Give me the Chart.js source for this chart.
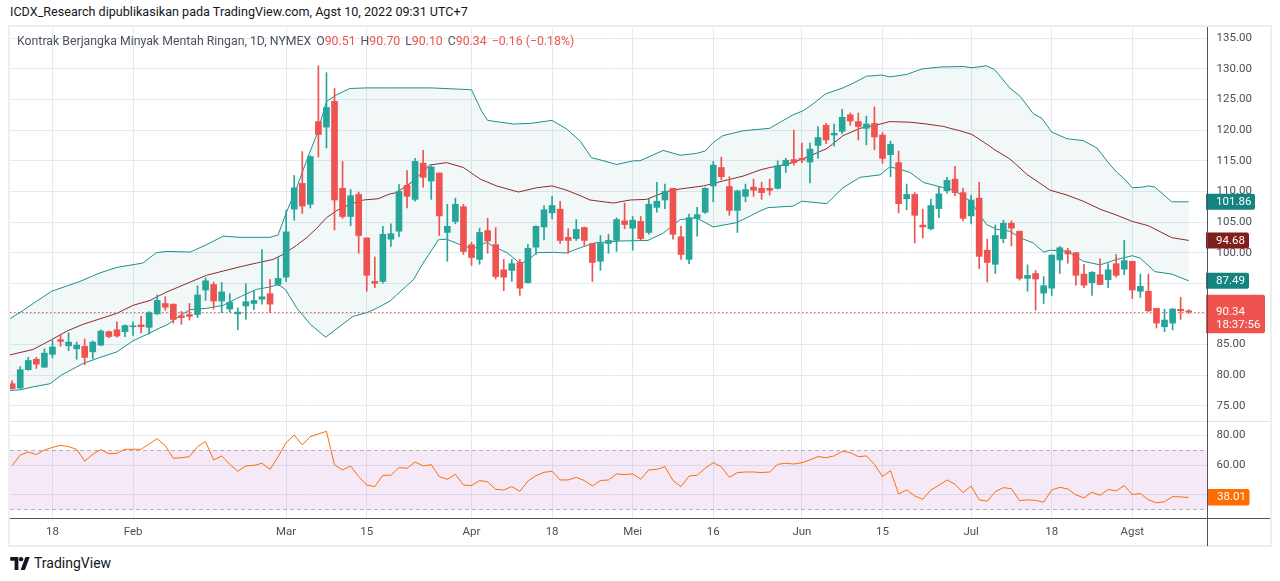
<!DOCTYPE html>
<html>
<head>
<meta charset="utf-8">
<script src="https://cdn.jsdelivr.net/npm/chart.js@4.4.1/dist/chart.umd.min.js"></script>
<style>
  body { margin:0; width:1280px; height:581px; overflow:hidden; background:#fff; position:relative;
         font-family: Roboto, "Noto Sans", sans-serif; }
  #head { position:absolute; left:10px; top:4px; font-size:12.6px; color:#131722; white-space:nowrap; }
  #frame { position:absolute; left:8px; top:25px; width:1260px; height:518px; border:2px solid #eceef2; }
  canvas { position:absolute; left:10px; }
  #price { top:28px; }
  #rsi { top:421px; }
  .line { position:absolute; }
  #legend { position:absolute; left:17px; top:34px; font-size:12.3px; color:#4c525e; white-space:nowrap; }
  #legend .k { margin-left:5px; }
  #legend .v { color:#ef5350; }
  #logo { position:absolute; left:10px; top:555px; display:flex; align-items:center; font-size:14px; color:#131722; }
  #logo svg { margin-right:4px; }
</style>
</head>
<body>
<div id="head">ICDX_Research dipublikasikan pada TradingView.com, Agst 10, 2022 09:31 UTC+7</div>
<div id="frame"></div>
<canvas id="price" width="1260" height="393"></canvas>
<canvas id="rsi" width="1260" height="125"></canvas>
<div class="line" style="left:10px;top:421px;width:1260px;height:1px;background:#e0e3eb"></div>
<div class="line" style="left:10px;top:518px;width:1260px;height:1px;background:#50535e"></div>
<div class="line" style="left:1207px;top:27px;width:1px;height:519px;background:#50535e"></div>
<div id="legend">Kontrak Berjangka Minyak Mentah Ringan, 1D, NYMEX<span class="k">O</span><span class="v">90.51</span><span class="k">H</span><span class="v">90.70</span><span class="k">L</span><span class="v">90.10</span><span class="k">C</span><span class="v">90.34</span><span class="k v">−0.16 (−0.18%)</span></div>
<div id="logo">
  <svg width="20" height="13" viewBox="0 0 36 24"><path d="M0 0h15v24H8V7H0z" fill="#131722"/><circle cx="20" cy="4" r="4" fill="#131722"/><path d="M28 0h8L27 24h-8z" fill="#131722"/></svg>
  <span>TradingView</span>
</div>

<script>
// daily candles, index 0 = Jan 10 2022 ... index 146 = Aug 10 2022
const opens  = [78.6,77.9,80.9,82.6,81.3,83.4,85.8,84.8,84.3,84.7,83.8,84.9,87.1,87.4,87.1,87.9,88.2,87.8,90.0,91.7,
  91.6,89.7,89.9,89.9,93.9,94.8,92.1,90.8,90.0,91.3,91.7,92.4,93.3,94.8,96.0,107.1,111.3,107.9,121.4,120.5,
  124.7,110.5,105.9,109.5,102.4,95.3,95.3,102.2,103.5,111.0,108.7,114.6,111.7,113.0,103.3,105.1,107.5,101.3,98.9,103.6,
  101.3,97.2,97.1,98.4,95.1,100.9,104.2,106.5,107.1,102.5,102.3,104.1,101.5,98.6,101.5,102.0,105.2,104.0,105.1,103.3,
  107.4,108.6,110.5,102.6,98.9,105.6,106.6,110.9,113.9,110.8,106.9,109.2,110.7,110.5,110.5,110.5,114.2,115.2,115.4,114.8,
  117.5,120.8,119.2,119.8,122.5,121.4,120.3,121.1,119.2,116.0,114.7,108.8,109.5,104.5,103.9,107.2,110.1,112.0,109.8,106.0,
  108.9,100.4,98.1,102.3,104.8,103.5,95.8,96.6,93.4,94.2,98.8,100.3,100.0,96.5,95.1,96.4,95.6,98.2,97.3,98.6,
  93.7,93.7,90.9,87.9,88.5,90.75,90.51];
const highs  = [79.1,81.4,82.9,82.9,84.3,85.7,86.5,86.9,85.4,85.9,85.6,87.4,87.2,88.7,88.2,88.7,89.6,90.4,93.1,92.8,
  91.6,90.4,91.7,94.6,95.9,95.2,95.1,93.3,91.0,94.9,93.8,100.5,95.6,99.1,106.9,112.6,116.5,115.8,130.5,129.4,
  126.8,114.9,110.3,109.9,102.4,99.3,104.3,104.7,111.1,113.4,115.4,116.7,114.2,113.0,107.9,108.9,107.9,101.7,104.0,105.6,
  104.1,98.9,98.9,98.9,101.3,104.4,107.7,109.2,108.4,103.9,105.4,104.2,101.5,102.8,103.0,105.7,108.1,105.9,105.9,108.7,
  111.5,111.2,110.5,104.3,106.3,107.4,110.6,114.9,115.6,112.4,110.2,111.2,112.0,111.5,112.0,115.0,115.4,120.0,117.9,117.9,
  120.6,121.1,121.0,123.4,122.8,122.8,122.3,123.8,119.6,118.2,116.6,111.2,109.8,107.1,108.7,110.7,112.3,114.1,110.5,109.4,
  111.5,102.2,104.5,105.3,105.2,103.5,98.0,97.1,96.1,99.7,101.0,100.7,100.0,98.1,96.9,99.0,98.2,99.7,102.0,98.6,
  96.5,96.5,90.9,90.8,90.9,92.7,90.70];
const lows   = [77.7,77.8,80.8,81.1,81.3,82.8,84.7,84.0,82.6,81.7,82.7,84.8,86.1,86.2,86.3,86.5,86.9,86.7,89.9,90.6,
  88.5,88.3,89.0,89.4,92.2,90.8,90.2,90.3,87.4,89.1,90.7,91.6,90.2,94.6,95.3,105.3,106.4,107.3,115.6,117.1,
  103.7,105.6,104.4,99.9,93.7,94.3,95.0,101.0,102.6,107.3,108.4,110.7,108.7,102.8,98.6,104.7,99.7,97.9,98.1,99.9,
  95.7,93.8,95.3,93.0,95.0,99.7,102.1,105.5,101.5,99.9,102.0,101.2,95.3,97.1,99.9,100.2,103.9,100.4,102.0,103.0,
  106.6,107.2,102.2,98.9,98.2,102.7,106.4,108.3,111.9,106.1,103.3,108.3,109.2,108.7,109.4,110.4,113.1,114.3,114.7,111.4,
  115.4,117.8,117.4,119.4,120.8,118.4,117.6,116.8,114.6,112.4,106.5,107.0,101.6,102.4,103.7,105.7,109.7,109.3,105.2,104.7,
  97.4,95.2,96.6,101.6,101.1,95.5,93.7,90.6,91.7,93.0,96.6,98.3,94.7,94.3,93.0,94.8,94.3,96.0,96.4,92.5,
  92.7,90.4,87.7,87.1,87.4,89.1,90.10];
const closes = [77.8,80.9,82.4,81.8,83.6,84.6,85.5,85.4,84.9,82.9,85.4,87.2,86.3,86.4,88.1,88.0,87.9,90.2,92.2,91.1,
  89.1,89.4,89.6,93.1,95.4,92.1,93.6,91.9,90.3,92.0,92.2,92.8,91.6,95.8,103.4,110.6,107.6,115.7,119.3,123.7,
  108.6,105.9,109.3,102.8,96.3,95.0,103.0,103.1,110.0,109.2,114.9,112.3,114.0,106.0,104.3,107.9,100.2,99.2,103.3,101.9,
  96.1,96.0,98.2,94.2,100.7,104.3,107.0,107.7,102.0,102.0,103.8,102.0,98.4,101.5,102.0,105.4,104.6,105.3,102.3,107.9,
  108.4,110.0,103.0,99.7,105.7,106.2,110.5,114.3,112.4,106.9,110.1,110.3,110.2,109.8,110.2,114.2,115.1,114.7,115.1,116.9,
  118.8,118.4,119.5,122.1,121.5,120.6,121.0,118.9,115.4,117.7,108.0,109.5,106.1,104.2,107.7,109.6,111.8,109.8,105.6,108.6,
  99.4,98.4,102.8,104.8,104.0,95.8,96.3,95.7,94.6,99.6,100.8,99.8,96.3,94.7,96.8,94.8,97.2,96.3,98.7,93.9,
  94.5,90.5,88.5,89.0,90.8,90.50,90.34];

// Bollinger bands as [candle index, price]
const bbUpper = [[-0.3,89.2],[1.4,90.6],[2.6,91.7],[4.9,93.7],[8.4,95.3],[10.9,96.7],[13.0,97.6],[16.2,98.3],[17.9,100.0],
  [19.2,100.2],[22.1,100.1],[24.1,101.3],[26.2,102.7],[28.3,102.5],[30.3,102.5],[32.0,102.5],[33.0,102.9],[34.1,106.8],
  [35.3,110.6],[36.5,114.9],[37.8,119.3],[39.0,124.7],[40.3,125.8],[41.9,126.8],[44.0,126.9],[46.9,126.9],[52.0,126.9],
  [57.0,126.6],[58.3,123.0],[59.0,121.6],[62.2,121.0],[64.3,121.1],[67.0,121.6],[68.8,120.2],[70.5,118.2],[71.9,115.5],
  [73.4,115.0],[75.0,114.4],[77.1,115.0],[77.9,115.0],[80.8,116.7],[82.9,115.9],[84.9,116.2],[86.0,116.6],[87.0,118.0],
  [88.2,119.1],[90.7,119.9],[94.0,120.3],[95.3,121.3],[96.9,122.5],[98.2,123.2],[99.4,124.3],[100.9,125.9],[103.1,126.9],
  [104.4,127.7],[106.0,128.8],[107.9,129.0],[108.9,128.7],[111.0,129.1],[112.9,130.0],[115.1,130.3],[118.0,130.4],
  [119.1,130.2],[120.9,130.5],[121.9,129.9],[123.8,126.9],[125.1,125.5],[126.7,122.7],[127.8,121.9],[129.0,119.7],
  [130.9,118.6],[132.9,118.3],[134.6,117.1],[136.2,114.4],[137.1,113.1],[137.9,112.2],[139.0,110.6],[140.3,110.7],
  [141.0,110.9],[141.8,110.7],[143.9,108.3],[146.0,108.3]];
const bbBasis = [[-0.3,83.3],[2.6,84.2],[4.9,85.8],[6.8,87.2],[8.8,88.3],[10.9,89.2],[13.0,90.1],[15.0,91.4],[17.1,92.2],
  [19.2,93.6],[21.2,94.7],[22.1,95.2],[24.1,96.3],[26.2,97.0],[28.3,97.7],[30.3,98.3],[32.4,98.9],[33.6,99.7],[35.3,101.2],
  [36.5,102.4],[37.8,104.0],[39.0,105.7],[40.3,106.9],[41.9,107.9],[43.6,108.6],[45.4,108.8],[46.9,109.6],[47.7,109.8],
  [49.8,111.7],[51.8,114.3],[53.9,114.7],[56.0,113.9],[58.1,112.0],[60.1,110.9],[62.8,109.9],[65.1,110.6],[67.0,110.9],
  [68.8,110.2],[70.5,109.3],[71.7,108.6],[74.6,108.1],[76.7,108.6],[78.7,108.7],[81.2,110.0],[82.9,110.4],[85.8,110.9],
  [88.2,111.7],[90.7,112.5],[92.8,113.5],[94.0,113.9],[94.9,114.1],[96.9,114.7],[99.0,115.8],[101.1,117.0],[103.1,119.1],
  [105.2,120.3],[107.3,120.85],[108.9,121.4],[111.4,121.3],[113.5,121.0],[115.6,120.6],[116.4,120.3],[117.6,119.9],
  [119.1,119.3],[121.3,117.4],[121.8,116.9],[123.8,115.3],[124.5,114.5],[125.9,112.8],[128.8,110.2],[130.9,109.4],
  [132.9,108.4],[135.0,107.1],[137.1,106.1],[139.0,105.1],[141.0,104.4],[143.9,102.45],[146.0,102.0]];
const bbLower = [[-0.3,77.5],[1.0,77.6],[2.6,78.1],[4.7,78.6],[6.1,80.0],[8.8,81.9],[10.9,82.9],[13.0,83.8],[15.0,85.6],
  [17.1,86.9],[18.3,87.7],[19.2,88.2],[20.4,89.3],[21.7,90.4],[22.1,90.7],[24.1,90.9],[26.2,91.4],[28.3,92.8],[30.3,94.0],
  [32.0,94.4],[33.0,94.8],[33.9,94.0],[35.3,91.0],[37.0,88.3],[38.9,86.2],[40.7,88.0],[42.3,89.6],[44.0,90.2],[45.2,90.9],
  [46.9,92.1],[47.7,93.1],[49.8,95.6],[51.0,98.3],[52.9,102.1],[53.9,102.2],[55.6,101.3],[57.2,100.6],[58.9,101.7],
  [59.7,101.0],[61.4,100.0],[63.0,98.3],[63.9,98.6],[65.1,100.0],[67.2,100.05],[68.8,99.95],[70.5,100.8],[72.3,101.6],
  [75.4,101.9],[78.9,102.0],[80.8,103.2],[82.9,105.4],[84.9,105.7],[87.0,104.2],[89.9,104.9],[91.6,106.0],[92.8,106.8],
  [93.8,107.35],[96.9,107.6],[98.0,108.4],[101.1,108.0],[103.1,110.6],[105.2,112.3],[107.7,112.7],[108.9,114.0],
  [110.2,113.6],[111.4,113.1],[113.1,111.45],[115.6,110.6],[116.4,110.4],[117.2,109.9],[118.9,108.4],[120.9,104.6],
  [122.2,103.8],[123.8,103.5],[125.1,102.4],[126.7,101.6],[128.0,100.1],[128.8,100.4],[130.9,100.25],[132.9,98.6],
  [135.0,98.0],[137.1,98.9],[139.0,99.5],[140.0,99.1],[141.8,96.9],[143.9,96.5],[146.0,95.4]];

const rsiValues = [59.6,66.8,68.9,67.1,70.2,72.0,73.4,72.5,70.7,62.6, 67.3,70.5,67.7,68.0,70.7,70.7,70.7,74.3,77.9,73.2,
  64.6,65.0,65.7,72.5,75.9,63.5,66.2,60.5,55.8,59.4, 59.8,61.2,57.1,65.7,75.2,80.4,73.6,79.3,81.1,82.9,
  60.1,56.7,59.4,52.2,46.5,45.4,53.1,53.1,58.3,57.8, 62.1,59.4,60.3,52.2,50.4,53.7,46.5,46.1,49.5,48.6,
  43.6,43.1,45.4,42.2,49.2,52.8,55.1,55.8,49.9,49.9, 51.7,49.5,45.8,49.5,49.9,54.0,53.5,54.0,50.4,56.7,
  57.1,58.9,49.5,45.4,52.6,53.1,57.8,61.6,58.9,51.7, 54.9,55.3,55.3,54.9,55.3,60.5,61.2,60.7,61.6,63.5,
  65.7,65.0,66.2,69.3,68.4,65.7,66.2,60.5,52.2,56.2, 40.4,43.1,39.1,36.8,43.1,46.3,49.9,47.0,41.3,45.8,
  36.4,35.5,42.0,44.7,44.0,35.9,36.4,36.1,34.8,43.1, 44.9,43.8,39.8,37.7,41.6,39.5,43.4,42.5,46.1,40.0,
  40.7,36.4,34.3,35.2,38.6,38.4,38.01];

const tickIdx    = [5, 15, 34, 44, 57, 67, 77, 87, 98, 108, 119, 129, 139];
const tickLabels = ['18','Feb','Mar','15','Apr','18','Mei','16','Jun','15','Jul','18','Agst'];
const priceTicks = [75, 80, 85, 90, 95, 100, 105, 110, 115, 120, 125, 130, 135];
const rsiTicks   = [40, 60, 80];
const rsiLevels  = [70, 30];
const bandLabels = ['101.86', '94.68', '87.49'];
const lastPrice = 90.34, lastPriceLabel = '90.34', countdown = '18:37:56', rsiLabel = '38.01';

const UP = '#26a69a', DOWN = '#ef5350', GRID = '#e1ebf1';
const BAND = '#1f8f8a', BAND_BOX = '#138480', BASIS = '#8c2b2b', BASIS_BOX = '#801d1d', RSI_COL = '#ff6d00';
const AXIS_FONT = '11.5px Roboto, "Noto Sans", sans-serif', AXIS_TEXT = '#4a4e59';
const X_MIN = -0.27, X_MAX = 148.27;

function xScale() {
  return {
    type: 'linear', min: X_MIN, max: X_MAX, offset: false,
    grid: { offset: false, color: GRID, drawTicks: false },
    border: { display: false }, ticks: { display: false },
    afterBuildTicks: s => { s.ticks = tickIdx.map(v => ({ value: v })); },
    afterFit: s => { s.height = 0; }
  };
}

function box(ctx, x, y, w, h, color, lines, yText) {
  ctx.fillStyle = color;
  ctx.beginPath();
  ctx.roundRect(x, y, w, h, [0, 2, 2, 0]);
  ctx.fill();
  ctx.fillStyle = '#fff';
  lines.forEach((t, k) => ctx.fillText(t, x + 10, yText[k]));
}

const priceOverlay = {
  id: 'priceOverlay',
  beforeDatasetsDraw(chart) {
    const { ctx, chartArea: a, scales: { y } } = chart;
    const py = Math.round(y.getPixelForValue(lastPrice)) + 0.5;
    ctx.save();
    ctx.strokeStyle = DOWN; ctx.lineWidth = 1; ctx.setLineDash([1.5, 2.5]);
    ctx.beginPath(); ctx.moveTo(a.left, py); ctx.lineTo(a.right, py); ctx.stroke();
    ctx.restore();
  },
  afterDraw(chart) {
    const { ctx, chartArea: a, scales: { y } } = chart;
    ctx.save();
    ctx.font = AXIS_FONT; ctx.textBaseline = 'middle'; ctx.textAlign = 'left';
    ctx.fillStyle = AXIS_TEXT;
    priceTicks.forEach(v => ctx.fillText(v.toFixed(2), a.right + 9.5, y.getPixelForValue(v)));
    const bands = [bbUpper, bbBasis, bbLower];
    const colors = [BAND_BOX, BASIS_BOX, BAND_BOX];
    const widths = [49, 43, 43];
    bands.forEach((b, k) => {
      const yy = y.getPixelForValue(b[b.length - 1][1]);
      box(ctx, a.right - 1, yy - 8, widths[k], 16, colors[k], [bandLabels[k]], [yy + 0.5]);
    });
    const py = y.getPixelForValue(lastPrice);
    box(ctx, a.right - 1, py - 17, 59, 38.5, DOWN, [lastPriceLabel, countdown], [py + 0.5, py + 13.5]);
    ctx.restore();
  }
};

const rsiOverlay = {
  id: 'rsiOverlay',
  beforeDatasetsDraw(chart) {
    const { ctx, chartArea: a, scales: { y } } = chart;
    const top = y.getPixelForValue(rsiLevels[0]), bot = y.getPixelForValue(rsiLevels[1]);
    ctx.save();
    ctx.fillStyle = 'rgba(156, 39, 176, 0.1)';
    ctx.fillRect(a.left, top, a.right - a.left, bot - top);
    ctx.strokeStyle = 'rgba(120, 123, 134, 0.55)'; ctx.lineWidth = 1; ctx.setLineDash([4, 3]);
    rsiLevels.forEach(v => {
      const yy = Math.round(y.getPixelForValue(v)) + 0.5;
      ctx.beginPath(); ctx.moveTo(a.left, yy); ctx.lineTo(a.right, yy); ctx.stroke();
    });
    ctx.restore();
  },
  afterDraw(chart) {
    const { ctx, chartArea: a, scales: { x, y } } = chart;
    ctx.save();
    ctx.font = AXIS_FONT; ctx.textBaseline = 'middle'; ctx.textAlign = 'left';
    ctx.fillStyle = AXIS_TEXT;
    rsiTicks.forEach(v => ctx.fillText(v.toFixed(2), a.right + 9.5, y.getPixelForValue(v)));
    ctx.textAlign = 'center';
    tickIdx.forEach((v, k) => ctx.fillText(tickLabels[k], x.getPixelForValue(v), a.bottom + 14));
    ctx.textAlign = 'left';
    const ry = y.getPixelForValue(rsiValues[rsiValues.length - 1]);
    box(ctx, a.right, ry - 8.5, 42.5, 16.5, RSI_COL, [rsiLabel], [ry]);
    ctx.restore();
  }
};

const candleColors = opens.map((o, i) => closes[i] >= o ? UP : DOWN);
const toPoints = arr => arr.map(p => ({ x: p[0], y: p[1] }));

new Chart(document.getElementById('price'), {
  type: 'bar',
  data: {
    datasets: [
      { label: 'body', data: opens.map((o, i) => ({ x: i, y: [o, closes[i]] })),
        backgroundColor: candleColors, barThickness: 6, minBarLength: 1, grouped: false },
      { label: 'wick', data: lows.map((l, i) => ({ x: i, y: [l, highs[i]] })),
        backgroundColor: candleColors, barThickness: 1, grouped: false },
      { type: 'line', label: 'upper', data: toPoints(bbUpper), borderColor: BAND, borderWidth: 1,
        pointRadius: 0, fill: 4, backgroundColor: 'rgba(19, 132, 128, 0.055)' },
      { type: 'line', label: 'basis', data: toPoints(bbBasis), borderColor: BASIS, borderWidth: 1,
        pointRadius: 0, fill: false },
      { type: 'line', label: 'lower', data: toPoints(bbLower), borderColor: BAND, borderWidth: 1,
        pointRadius: 0, fill: false }
    ]
  },
  options: {
    responsive: false, animation: false, events: [],
    layout: { padding: { left: 0, right: 0, top: 0, bottom: 1 } },
    plugins: { legend: { display: false }, tooltip: { enabled: false }, filler: { drawTime: 'beforeDatasetsDraw' } },
    scales: {
      x: xScale(),
      y: {
        position: 'right', min: 72.68, max: 136.68,
        grid: { color: GRID, drawTicks: false }, border: { display: false }, ticks: { display: false },
        afterBuildTicks: s => { s.ticks = priceTicks.map(v => ({ value: v })); },
        afterFit: s => { s.width = 63; }
      }
    }
  },
  plugins: [priceOverlay]
});

new Chart(document.getElementById('rsi'), {
  type: 'line',
  data: {
    datasets: [{ label: 'RSI', data: rsiValues.map((v, i) => ({ x: i, y: v })),
      borderColor: RSI_COL, borderWidth: 1, pointRadius: 0, fill: false }]
  },
  options: {
    responsive: false, animation: false, events: [],
    layout: { padding: { left: 0, right: 0, top: 1, bottom: 27.7 } },
    plugins: { legend: { display: false }, tooltip: { enabled: false } },
    scales: {
      x: xScale(),
      y: {
        position: 'right', min: 23.9, max: 89.2,
        grid: { color: GRID, drawTicks: false }, border: { display: false }, ticks: { display: false },
        afterBuildTicks: s => { s.ticks = rsiTicks.map(v => ({ value: v })); },
        afterFit: s => { s.width = 63; }
      }
    }
  },
  plugins: [rsiOverlay]
});
</script>
</body>
</html>
